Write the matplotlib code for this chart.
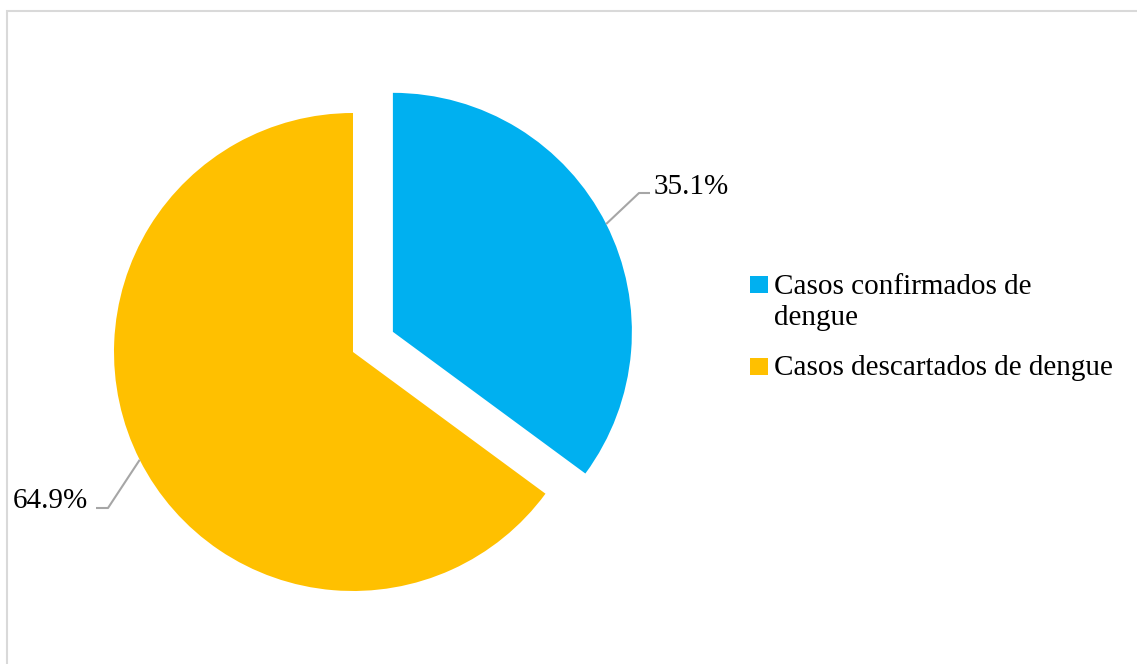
import numpy as np
import matplotlib
matplotlib.use("Agg")
import matplotlib.pyplot as plt
from matplotlib.patches import Rectangle

plt.rcParams['font.family'] = ['Liberation Serif', 'DejaVu Serif']

categories = ["Casos confirmados de\ndengue", "Casos descartados de dengue"]
values = [35.1, 64.9]
labels = ["35.1%", "64.9%"]
colors = ["#00B0F0", "#FFC000"]

W, H = 1137, 664
fig = plt.figure(figsize=(W / 100, H / 100), dpi=100)
ax = fig.add_axes([0, 0, 1, 1])

R = 239
wedges, _ = ax.pie(values, colors=colors, startangle=90, counterclock=False,
                   explode=[0.187 * R, 0], center=(353, H - 352), radius=R,
                   wedgeprops=dict(linewidth=0), frame=True)
ax.set_xlim(0, W)
ax.set_ylim(0, H)
ax.set_aspect('equal')
ax.axis('off')

# outer frame
ax.add_patch(Rectangle((6.5, -10), W + 10, H - 10.5 + 10, fill=False,
                       edgecolor='#D9D9D9', lw=1.5, clip_on=False))

# data labels with leader lines
elbows = [(639, H - 193), (108, H - 508)]
ends = [(650, H - 193), (96, H - 508)]
txtpos = [(654, H - 194), (88, H - 508)]
has = ['left', 'right']
for w, lab, el, en, tp, ha in zip(wedges, labels, elbows, ends, txtpos, has):
    mid = np.deg2rad((w.theta1 + w.theta2) / 2)
    cx, cy = w.center
    sx, sy = cx + w.r * np.cos(mid), cy + w.r * np.sin(mid)
    ax.plot([sx, el[0], en[0]], [sy, el[1], en[1]], color='#A6A6A6', lw=1.5,
            solid_capstyle='butt')
    ax.text(tp[0], tp[1], lab, ha=ha, va='baseline', fontsize=21, color='black')

# legend
sq_y = [H - 293, H - 375]
txt_y = [H - 325, H - 375]
for cat, col, sy, ty in zip(categories, colors, sq_y, txt_y):
    ax.add_patch(Rectangle((750, sy), 18, 17, facecolor=col, edgecolor='none'))
    ax.text(774, ty, cat, ha='left', va='baseline', fontsize=21, color='black',
            linespacing=1.27, multialignment='left')

fig.savefig("out.png", dpi=100)
